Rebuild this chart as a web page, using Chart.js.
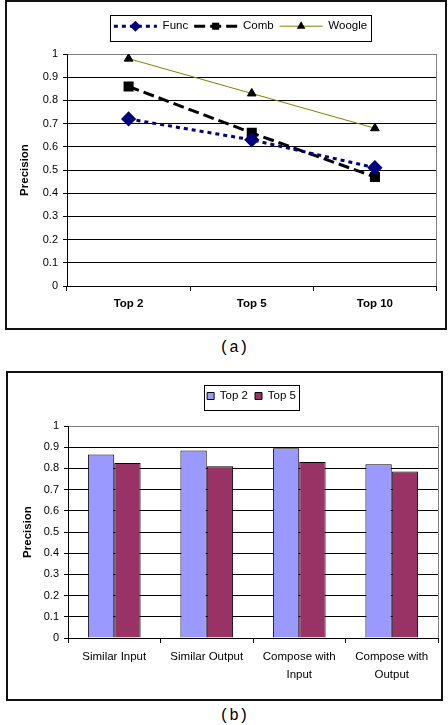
<!DOCTYPE html>
<html>
<head>
<meta charset="utf-8">
<title>Precision charts</title>
<script src="https://cdn.jsdelivr.net/npm/chart.js@4/dist/chart.umd.min.js"></script>
<style>
    html, body { margin: 0; padding: 0; background: #fff; overflow: hidden; }
    .frame { position: absolute; border: 2px solid #111; box-sizing: border-box; background: #fff; }
    .frame canvas { display: block; }
    .caption { position: absolute; width: 200px; text-align: center;
               font: 16px "Liberation Mono", "DejaVu Sans Mono", monospace; line-height: 20px; color: #000; }
</style>
</head>
<body>
<div class="frame" style="left:5px;top:0px;width:442px;height:330px;">
    <div style="position:relative;width:438px;height:326px"><canvas id="lineChart"></canvas></div>
</div>
<div class="caption" style="left:134px;top:338px;">(a)</div>

<div class="frame" style="left:6px;top:371px;width:437px;height:330px;">
    <div style="position:relative;width:433px;height:326px"><canvas id="barChart"></canvas></div>
</div>
<div class="caption" style="left:134px;top:706px;">(b)</div>

<script>
// ---- data ----
const topLabels = ['Top 2', 'Top 5', 'Top 10'];
const funcValues = [0.72, 0.63, 0.51];
const combValues = [0.86, 0.66, 0.47];
const woogleValues = [0.98, 0.83, 0.68];

const taskLabels = ['Similar Input', 'Similar Output', ['Compose with', 'Input'], ['Compose with', 'Output']];
const top2Values = [0.865, 0.885, 0.895, 0.82];
const top5Values = [0.825, 0.81, 0.83, 0.785];

const precisionTicks = ['0', '0.1', '0.2', '0.3', '0.4', '0.5', '0.6', '0.7', '0.8', '0.9', '1'];

// ---- shared setup ----
Chart.defaults.font.family = '"Liberation Sans", Arial, sans-serif';
Chart.defaults.color = '#000';
Chart.defaults.animation = false;

function drawMarker(ctx, style, x, y, r, color) {
    ctx.fillStyle = color;
    ctx.beginPath();
    if (style === 'rectRot') {
        ctx.moveTo(x, y - r);
        ctx.lineTo(x + r, y);
        ctx.lineTo(x, y + r);
        ctx.lineTo(x - r, y);
    } else if (style === 'triangle') {
        ctx.moveTo(x, y - r);
        ctx.lineTo(x + 0.866 * r, y + 0.5 * r);
        ctx.lineTo(x - 0.866 * r, y + 0.5 * r);
    } else {
        const s = r * Math.SQRT1_2;
        ctx.rect(x - s, y - s, 2 * s, 2 * s);
    }
    ctx.closePath();
    ctx.fill();
}

// Centre the legend on a fixed box and draw the box border
const legendBox = {
    id: 'legendBox',
    afterLayout(chart, args, opts) {
        const lg = chart.legend;
        const size = lg.options.labels.font.size;
        const dx = (opts.x + opts.w / 2) - (lg.left + lg.right) / 2;
        lg.left += dx;
        lg.right += dx;
        lg.top = opts.textY - size / 2 - lg.options.labels.padding;
        lg.bottom = opts.y + opts.h;
        lg.height = lg.bottom - lg.top;
    },
    afterDraw(chart, args, opts) {
        const ctx = chart.ctx;
        ctx.save();
        ctx.strokeStyle = '#000';
        ctx.lineWidth = 1;
        ctx.strokeRect(opts.x + 0.5, opts.y + 0.5, opts.w, opts.h);
        ctx.restore();
    }
};

// Line + marker samples for the line chart legend
const legendSamples = {
    id: 'legendSamples',
    afterDraw(chart) {
        const lg = chart.legend;
        const ctx = chart.ctx;
        const bw = lg.options.labels.boxWidth;
        lg.legendHitBoxes.forEach((hb, i) => {
            const ds = chart.data.datasets[lg.legendItems[i].datasetIndex];
            const y = hb.top + hb.height / 2;
            ctx.save();
            ctx.strokeStyle = ds.borderColor;
            ctx.lineWidth = ds.borderWidth;
            ctx.setLineDash(ds.borderDash || []);
            ctx.beginPath();
            ctx.moveTo(hb.left, y);
            ctx.lineTo(hb.left + bw, y);
            ctx.stroke();
            ctx.setLineDash([]);
            drawMarker(ctx, ds.pointStyle, hb.left + bw / 2, y, ds.pointRadius, ds.pointBackgroundColor);
            ctx.restore();
        });
    }
};

// Grey right edge of the plot area
const plotEdge = {
    id: 'plotEdge',
    beforeDatasetsDraw(chart) {
        const {ctx, chartArea: a} = chart;
        const x = Math.round(a.right - 0.5) + 0.5;
        ctx.save();
        ctx.strokeStyle = '#808080';
        ctx.lineWidth = 1;
        ctx.beginPath();
        ctx.moveTo(x, a.top);
        ctx.lineTo(x, a.bottom);
        ctx.stroke();
        ctx.restore();
    }
};

function precisionAxis(titlePad) {
    return {
        min: 0,
        max: 1,
        afterFit: s => { s.width = 60; },
        ticks: {
            stepSize: 0.1,
            padding: 5,
            font: { size: 11 },
            callback: (v, i) => precisionTicks[i],
        },
        grid: {
            color: c => (c.tick && Math.abs(c.tick.value - 1) < 1e-9 ? '#808080' : '#000'),
            tickColor: '#000',
            tickLength: 4,
        },
        border: { color: '#000' },
        title: {
            display: true,
            text: 'Precision',
            font: { size: 11.5, weight: 'bold' },
            padding: { top: titlePad, bottom: 0 },
        },
    };
}

// ---- (a) line chart ----
new Chart(document.getElementById('lineChart'), {
    type: 'line',
    data: {
        labels: topLabels,
        datasets: [
            {
                label: 'Func',
                data: funcValues,
                borderColor: '#000080',
                borderWidth: 3,
                borderDash: [4, 4],
                pointStyle: 'rectRot',
                pointRadius: 5.5,
                pointBackgroundColor: '#000080',
                pointBorderColor: '#000080',
            },
            {
                label: 'Comb',
                data: combValues,
                borderColor: '#000',
                borderWidth: 3,
                borderDash: [11, 5],
                pointStyle: 'rect',
                pointRadius: 5,
                pointBackgroundColor: '#000',
                pointBorderColor: '#000',
            },
            {
                label: 'Woogle',
                data: woogleValues,
                borderColor: '#808000',
                borderWidth: 1,
                pointStyle: 'triangle',
                pointRadius: 5,
                pointBackgroundColor: '#000',
                pointBorderColor: '#000',
            },
        ],
    },
    options: {
        responsive: true,
        maintainAspectRatio: false,
        layout: { padding: { left: 0, right: 7, top: 52, bottom: 0 } },
        plugins: {
            tooltip: { enabled: false },
            legend: {
                position: 'top',
                maxHeight: 0.0001,
                labels: {
                    boxWidth: 43,
                    boxHeight: 2,
                    padding: 6,
                    font: { size: 11.5 },
                    generateLabels: chart => Chart.defaults.plugins.legend.labels.generateLabels(chart)
                        .map(item => ({ ...item, fillStyle: 'rgba(0,0,0,0)', strokeStyle: 'rgba(0,0,0,0)', lineWidth: 0 })),
                },
            },
            legendBox: { x: 103, y: 13, w: 261, h: 26, textY: 24.2 },
        },
        scales: {
            x: {
                offset: true,
                afterFit: s => { s.height = 42; },
                grid: { offset: true, drawOnChartArea: false, tickColor: '#000', tickLength: 5 },
                border: { color: '#000' },
                ticks: { padding: 6, maxRotation: 0, font: { size: 11.5, weight: 'bold' } },
            },
            y: precisionAxis(11),
        },
    },
    plugins: [legendBox, legendSamples, plotEdge],
});

// ---- (b) bar chart ----
new Chart(document.getElementById('barChart'), {
    type: 'bar',
    data: {
        labels: taskLabels,
        datasets: [
            {
                label: 'Top 2',
                data: top2Values,
                backgroundColor: '#9999FF',
                borderColor: '#000',
                borderWidth: 1,
            },
            {
                label: 'Top 5',
                data: top5Values,
                backgroundColor: '#993366',
                borderColor: '#000',
                borderWidth: 1,
            },
        ],
    },
    options: {
        responsive: true,
        maintainAspectRatio: false,
        categoryPercentage: 0.57,
        barPercentage: 1.0,
        layout: { padding: { left: 0, right: 3, top: 53, bottom: 0 } },
        plugins: {
            tooltip: { enabled: false },
            legend: {
                position: 'top',
                maxHeight: 0.0001,
                labels: {
                    boxWidth: 7,
                    boxHeight: 7,
                    padding: 7,
                    font: { size: 11.5 },
                },
            },
            legendBox: { x: 196, y: 12, w: 95, h: 25, textY: 23 },
        },
        scales: {
            x: {
                afterFit: s => { s.height = 61; },
                grid: { offset: true, drawOnChartArea: false, tickColor: '#000', tickLength: 5 },
                border: { color: '#000' },
                ticks: { padding: 5, maxRotation: 0, autoSkip: false, font: { size: 11.5, lineHeight: 1.56 } },
            },
            y: precisionAxis(12.8),
        },
    },
    plugins: [legendBox, plotEdge],
});
</script>
</body>
</html>
